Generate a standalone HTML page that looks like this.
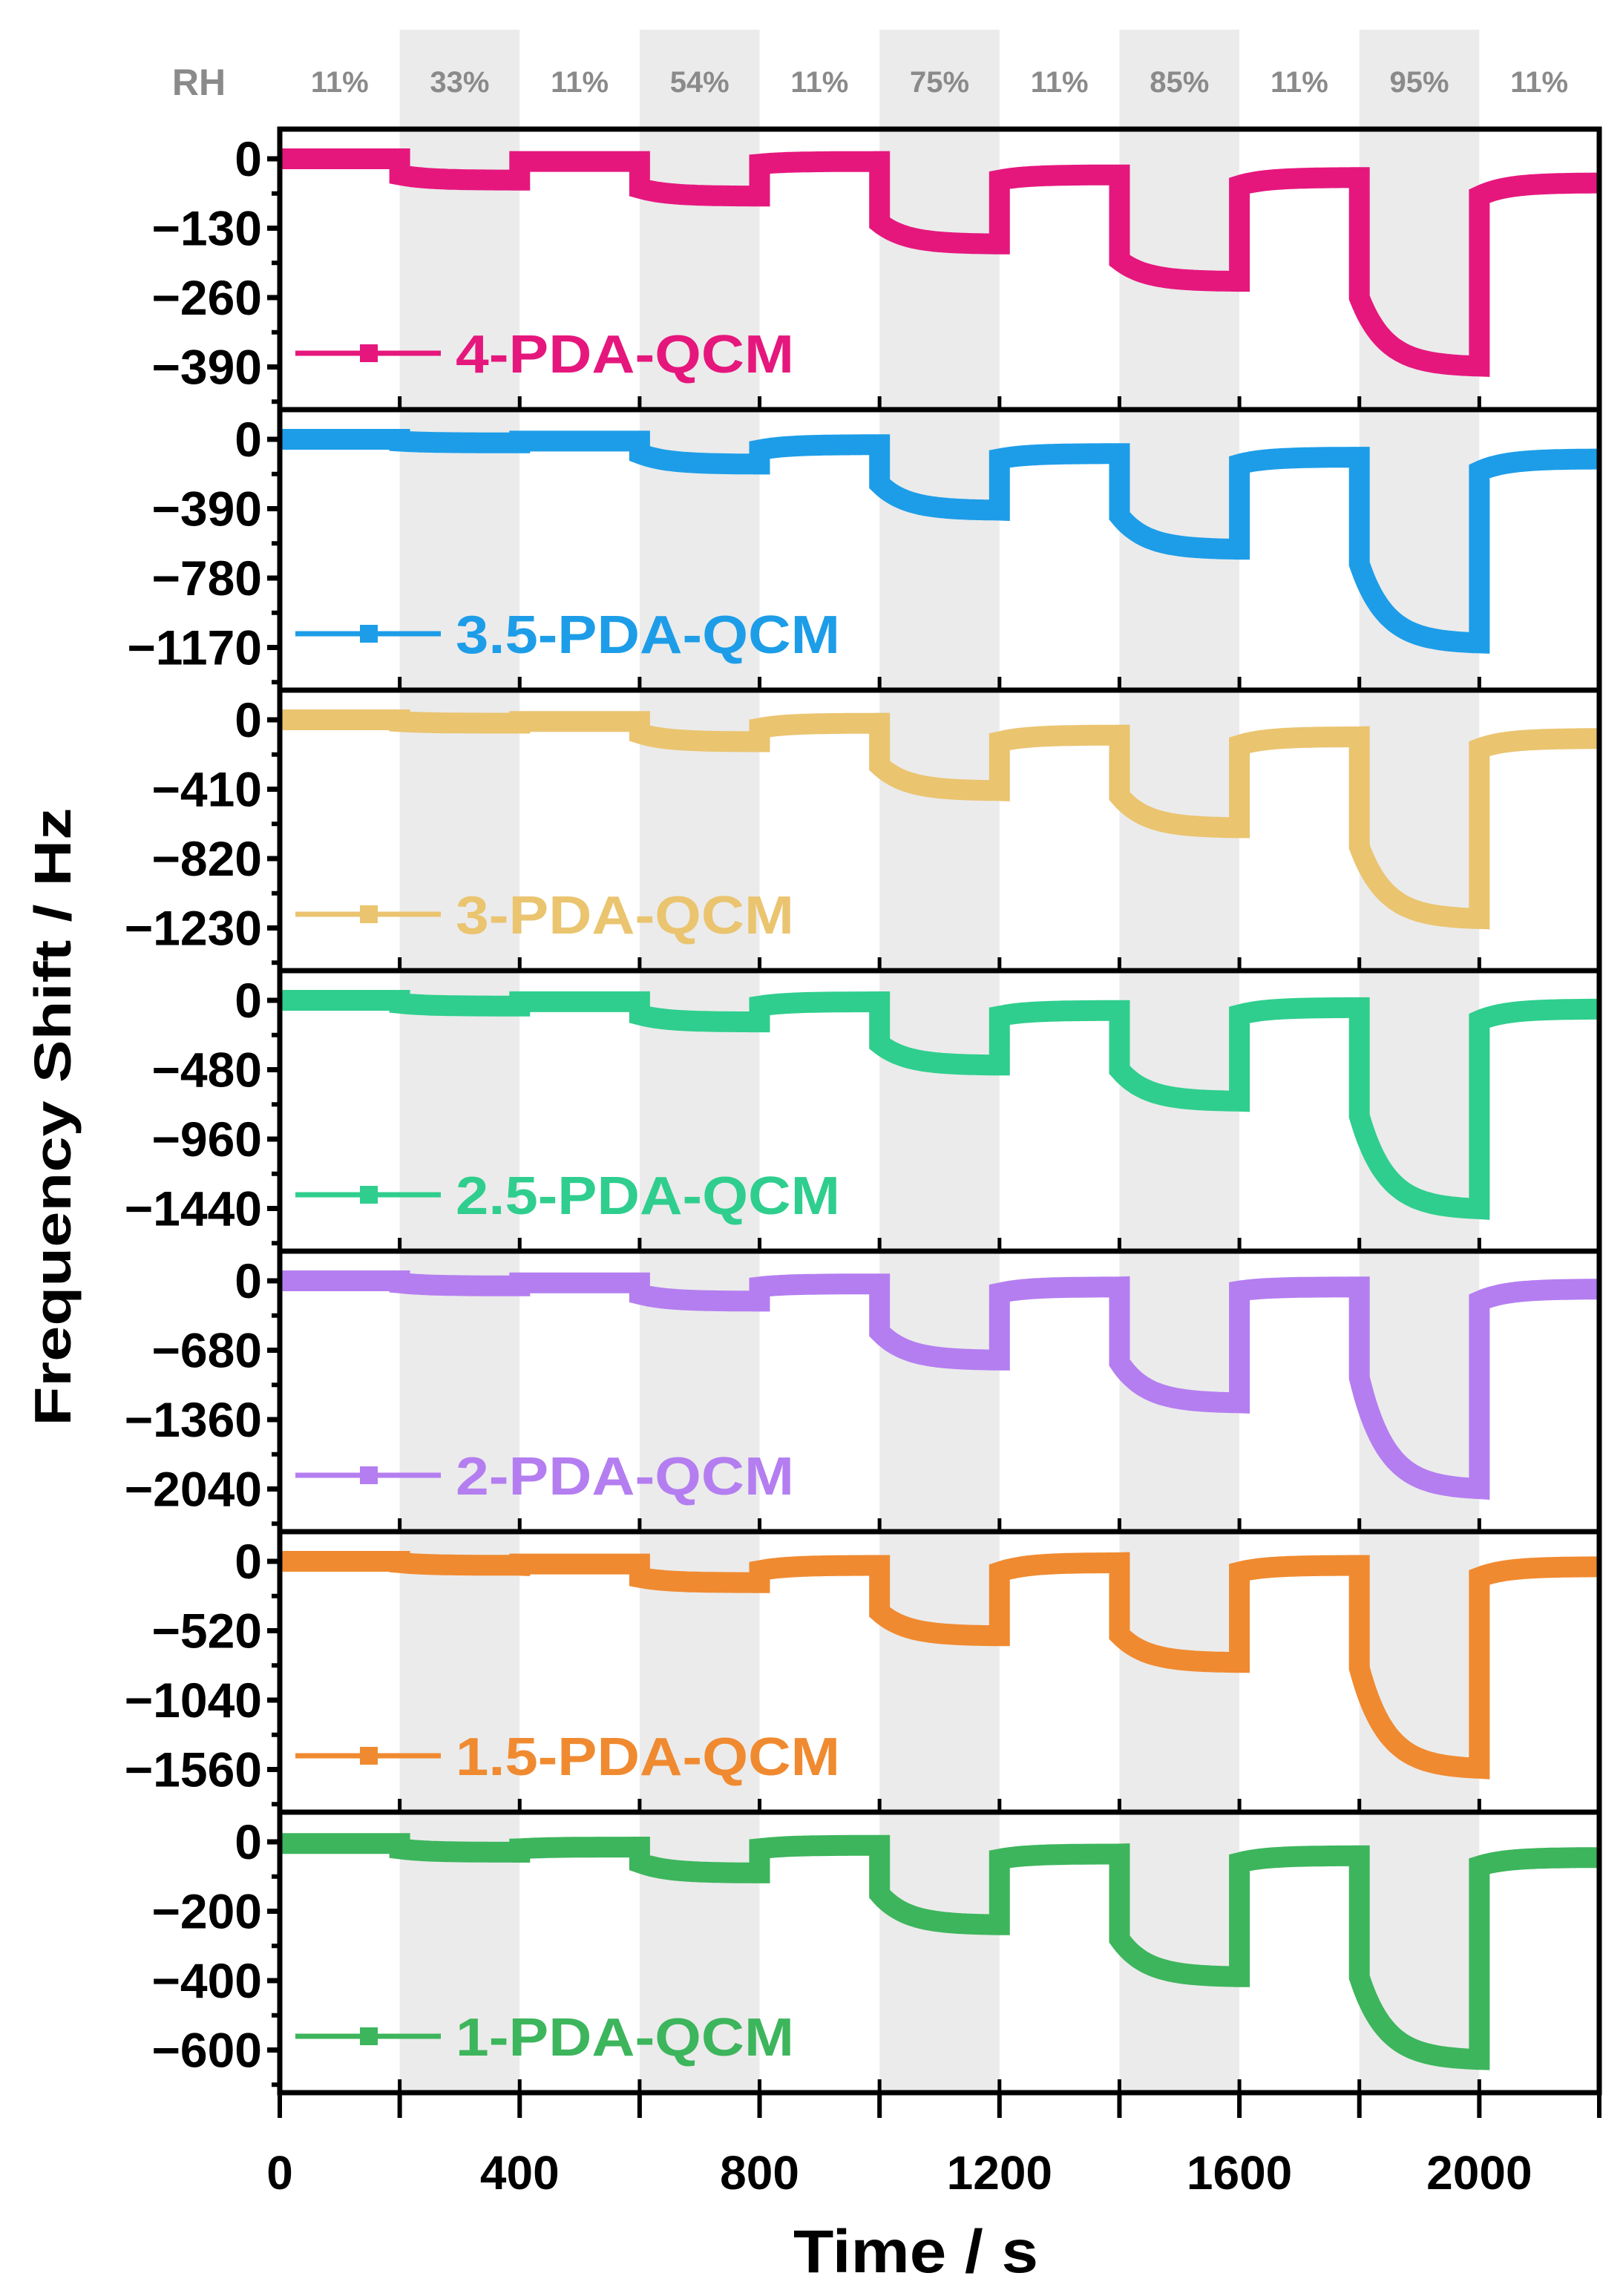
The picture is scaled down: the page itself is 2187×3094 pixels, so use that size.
<!DOCTYPE html>
<html><head><meta charset="utf-8"><style>
html,body{margin:0;padding:0;background:#fff;}
svg{display:block;font-family:"Liberation Sans",sans-serif;font-weight:bold;}
</style></head><body>
<svg id="chart" width="2187" height="3094" viewBox="0 0 2187 3094" xmlns="http://www.w3.org/2000/svg">
<g id="bands"></g>
<g id="rh"></g>
<g id="panels"></g>
<text transform="translate(95,1505) rotate(-90)" text-anchor="middle" font-size="70" textLength="833" lengthAdjust="spacingAndGlyphs">Frequency Shift / Hz</text>
<text x="1234" y="3062" text-anchor="middle" font-size="82" textLength="330" lengthAdjust="spacingAndGlyphs">Time / s</text>
</svg>
<script>
const rhBands = [[200,400],[600,800],[1000,1200],[1400,1600],[1800,2000]];
const rhLabels = ['11%','33%','11%','54%','11%','75%','11%','85%','11%','95%','11%'];
const xTicks = [0,400,800,1200,1600,2000];
const segStarts = [0,200,400,600,800,1000,1200,1400,1600,1800,2000];
const names = ['4-PDA-QCM','3.5-PDA-QCM','3-PDA-QCM','2.5-PDA-QCM','2-PDA-QCM','1.5-PDA-QCM','1-PDA-QCM'];
const colors = ['#e5177d','#1d9de8','#eac46f','#2fce8e','#b47ef0','#f08a30','#3db55c'];
const steps = [130,390,410,480,680,520,200];
// segment start / end values (Hz) per series
const startVals = [
 [0,-30,-5,-55,-10,-120,-40,-190,-50,-260,-70],
 [0,-10,-10,-80,-60,-250,-110,-430,-140,-700,-180],
 [0,-10,-10,-80,-50,-270,-130,-450,-150,-750,-170],
 [0,-20,-10,-100,-40,-300,-110,-480,-100,-800,-140],
 [0,-20,-20,-130,-60,-500,-120,-800,-100,-950,-200],
 [0,-10,-20,-120,-70,-380,-80,-550,-80,-800,-120],
 [-5,-20,-20,-60,-20,-150,-50,-280,-60,-390,-70]
];
const endVals = [
 [0,-40,-5,-70,-5,-160,-30,-230,-35,-390,-45],
 [0,-20,-10,-140,-30,-400,-80,-620,-100,-1150,-110],
 [0,-20,-10,-130,-20,-420,-90,-640,-100,-1180,-110],
 [0,-40,-10,-150,-10,-450,-70,-700,-50,-1450,-60],
 [0,-50,-20,-200,-30,-780,-60,-1200,-60,-2050,-80],
 [0,-30,-20,-160,-30,-560,-10,-760,-30,-1560,-40],
 [-5,-30,-15,-90,-10,-240,-35,-390,-40,-630,-45]
];
const NS='http://www.w3.org/2000/svg';
const L=377,R=2155,TOP=174,PH=378,PX0=40,SPX=93.5;
const X=t=>L+(t/2200)*(R-L);
function mk(tag,attrs,parent){const e=document.createElementNS(NS,tag);for(const k in attrs)e.setAttribute(k,attrs[k]);parent.appendChild(e);return e;}
const bands=document.getElementById('bands'),rhG=document.getElementById('rh'),P=document.getElementById('panels');
const bottom=TOP+PH*7;
rhBands.forEach((b,i)=>{
 const r=mk('rect',{x:X(b[0]),y:40,width:X(b[1])-X(b[0]),height:bottom-40,fill:'#ebebeb'},bands);
 
 
});
const rhT=mk('text',{x:268,y:128,'text-anchor':'middle','font-size':50,fill:'#8a8a8a'},rhG);rhT.textContent='RH';


rhLabels.forEach((s,i)=>{
 const t=mk('text',{x:X(segStarts[i]+100),y:124,'text-anchor':'middle','font-size':40,fill:'#8a8a8a'},rhG);t.textContent=s;
 
 
});
names.forEach((nm,p)=>{
 const g=mk('g',{},P);
 
 
 const top=TOP+p*PH,step=steps[p];
 const Y=v=>top+PX0-v/step*SPX;
 let d='';
 for(let s=0;s<11;s++){
  const t0=segStarts[s],a=startVals[p][s],b=endVals[p][s];
  for(let t=t0;t<=t0+200;t+=4){
   const v=b+(a-b)*Math.exp(-(t-t0)/45);
   d+=(d?'L':'M')+X(Math.min(t,2200)).toFixed(1)+','+Y(v).toFixed(1);
  }
 }
 const path=mk('path',{d:d,fill:'none',stroke:colors[p],'stroke-width':28,'stroke-linejoin':'miter'},g);
 
 
 mk('path',{d:d,fill:'none',stroke:colors[p],'stroke-width':6},g);
 for(let k=0;k<=3;k++){
  const y=Y(-k*step);
  mk('line',{x1:L-17,x2:L,y1:y,y2:y,stroke:'#000','stroke-width':7},g);
  const lab=mk('text',{x:L-24,y:y+23,'text-anchor':'end','font-size':66},g);
  lab.textContent=k===0?'0':'\u2212'+(k*step);
  
  
 }
 [0.5,-0.5,-1.5,-2.5,-3.5].forEach(k=>{const y=Y(k*step);if(y>top+4&&y<top+PH-4)mk('line',{x1:L-11,x2:L,y1:y,y2:y,stroke:'#000','stroke-width':6},g);});
 for(let t=200;t<2200;t+=200){const x=X(t);mk('line',{x1:x,x2:x,y1:top+PH-18,y2:top+PH,stroke:'#000','stroke-width':5},g);}
 const fr=mk('rect',{x:L,y:top,width:R-L,height:PH,fill:'none',stroke:'#000','stroke-width':7},g);
 
 
 const ly=top+302;
 const lg=mk('g',{},g);
 
 
 mk('line',{x1:398,x2:594,y1:ly,y2:ly,stroke:colors[p],'stroke-width':7},lg);
 mk('rect',{x:485,y:ly-12,width:24,height:24,fill:colors[p]},lg);
 const lt=mk('text',{x:614,y:ly+26,'font-size':72,fill:colors[p],textLength:Math.round(456*nm.length/9*0.93+ (nm.length>9?0:32)),lengthAdjust:'spacingAndGlyphs'},lg);
 lt.textContent=nm;
});
for(let t=0;t<=2200;t+=200){const x=X(t);mk('line',{x1:x,x2:x,y1:bottom,y2:bottom+34,stroke:'#000','stroke-width':6},P);}
xTicks.forEach(t=>{const e=mk('text',{x:X(t),y:2950,'text-anchor':'middle','font-size':64},P);e.textContent=t;
 
 });
</script>
</body></html>
